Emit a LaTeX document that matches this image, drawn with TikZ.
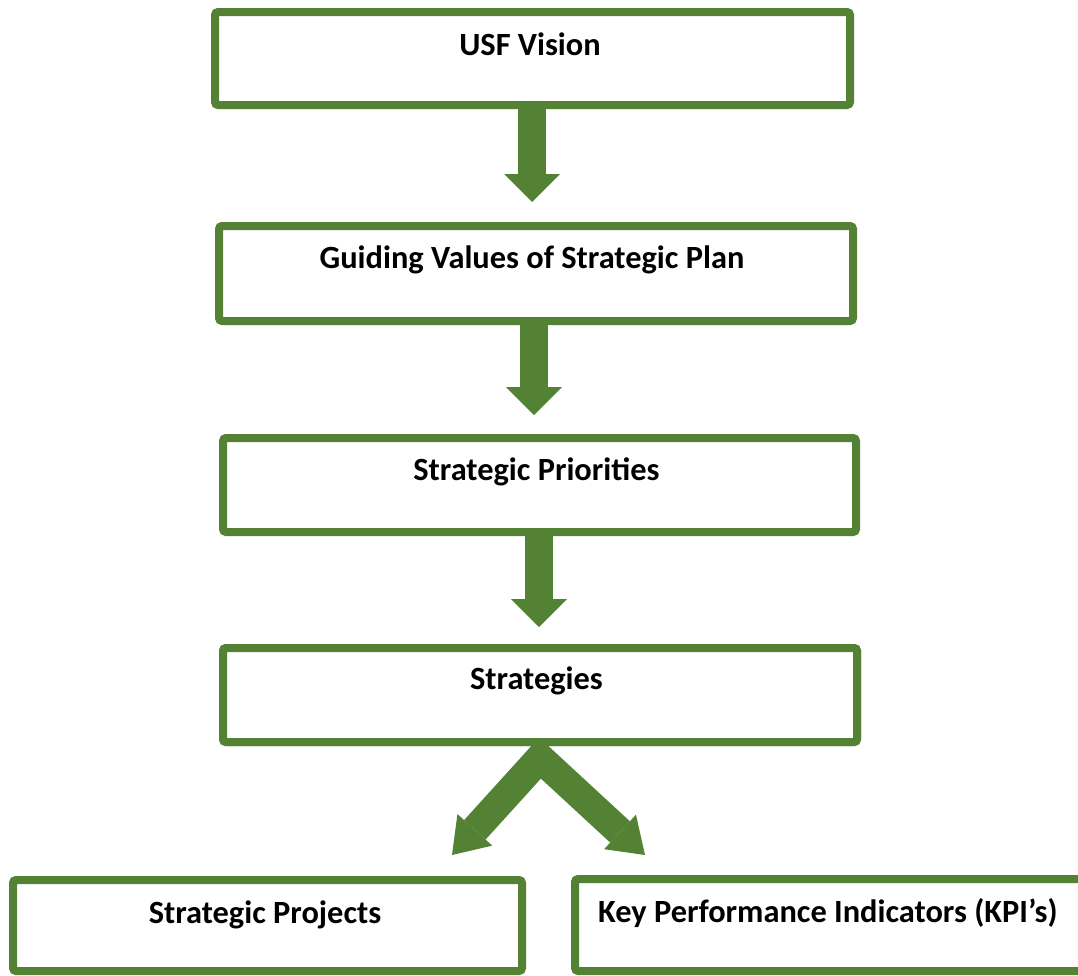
\documentclass[tikz,border=0pt]{standalone}
\usepackage{fontspec}
\setmainfont{Carlito}
\usetikzlibrary{arrows.meta}
\definecolor{leaf}{RGB}{84,130,53}
\tikzset{
  stagebox/.style={draw=leaf, line width=8pt, fill=white, rounded corners=3pt,
    inner sep=0pt, outer sep=0pt},
  stagetext/.style={anchor=base, inner sep=0pt, font=\fontsize{32.4}{38}\selectfont\bfseries},
  flowdown/.style={draw=leaf, line width=28pt,
    -{Triangle[width=56pt,length=28pt,line width=0pt]}},
  flowsplit/.style={draw=leaf, line width=29pt, line join=miter,
    {Triangle[width=47pt,length=34pt,line width=0pt]}-{Triangle[width=47pt,length=34pt,line width=0pt]}}
}
\begin{document}
\begin{tikzpicture}[x=1pt,y=-1pt]
\useasboundingbox (0,0) rectangle (1078,975);

% stage frames
\node[stagebox, minimum width=635pt, minimum height=93pt] (b1) at (532.5,58.5) {};
\node[stagebox, minimum width=634pt, minimum height=95pt] (b2) at (536,273.5) {};
\node[stagebox, minimum width=633pt, minimum height=94pt] (b3) at (539.5,485) {};
\node[stagebox, minimum width=634pt, minimum height=94pt] (b4) at (540,695) {};
\node[stagebox, minimum width=509pt, minimum height=91pt] (b5) at (267.5,925.5) {};
\node[stagebox, minimum width=515pt, minimum height=92pt] (b6) at (832.5,925) {};

% connectors between stages
\draw[flowdown, shorten >=24pt] ([xshift=-0.5pt]b1.south) -- ([xshift=-0.5pt]b1.south |- b2.north);
\draw[flowdown, shorten >=23pt] ([xshift=-2pt]b2.south) -- ([xshift=-2pt]b2.south |- b3.north);
\draw[flowdown, shorten >=21pt] ([xshift=-0.5pt]b3.south) -- ([xshift=-0.5pt]b3.south |- b4.north);

\coordinate (apex) at ([yshift=-16pt]b4.south);
\coordinate (tipL) at (452,855);
\coordinate (tipR) at (645,855);
\draw[flowsplit] (tipL) -- (apex) -- (tipR);

% redraw frame 4 over the fork top
\node[stagebox, minimum width=634pt, minimum height=94pt] at (b4) {};

% labels
\node[stagetext] (t1) at ([xshift=-2.5pt,yshift=-43.5pt]b1.north) {USF Vision};
\node[stagetext] (t2) at ([xshift=-4pt,yshift=-42pt]b2.north) {Guiding Values of Strategic Plan};
\node[stagetext] (t3) at ([xshift=-3pt,yshift=-42pt]b3.north) {Strategic Priorities};
\node[stagetext] (t4) at ([xshift=-3.5pt,yshift=-41pt]b4.north) {Strategies};
\node[stagetext] (t5) at ([xshift=-2.5pt,yshift=-43pt]b5.north) {Strategic Projects};
\node[stagetext, anchor=base west] (t6) at ([yshift=-43pt]b6.north west) {\hspace*{23pt}Key Performance Indicators (KPI’s)};
\end{tikzpicture}
\end{document}
